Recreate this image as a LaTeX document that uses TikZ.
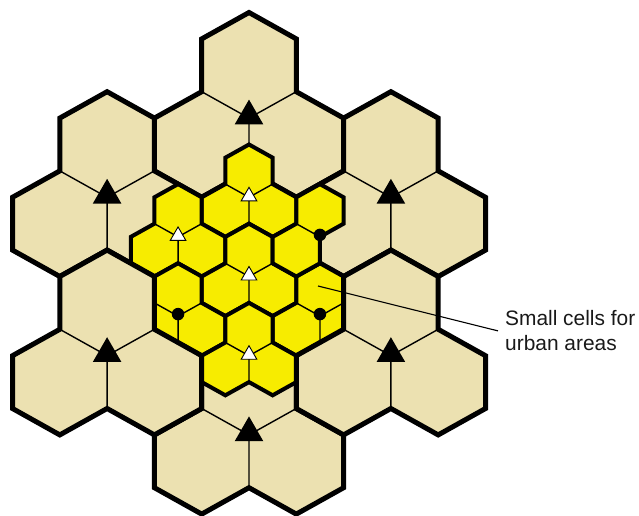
\documentclass[tikz,border=0pt]{standalone}
\usepackage{fontspec}
\setmainfont{Liberation Sans}
\usetikzlibrary{shapes.geometric}

\definecolor{cellbeige}{RGB}{236,225,177}
\definecolor{cellyellow}{RGB}{247,236,0}

\tikzset{
  sector/.style={line width=1.4pt},
  bigsite/.style={regular polygon, regular polygon sides=3, fill=black, inner sep=0pt, minimum size=33pt},
  smallsite/.style={regular polygon, regular polygon sides=3, draw=black, line width=0.9pt, fill=white, inner sep=0pt, minimum size=18pt},
  smalldot/.style={circle, fill=black, inner sep=0pt, minimum size=12.5pt},
  leader/.style={line width=1.1pt},
  caption/.style={font=\fontsize{20.9}{25}\selectfont, align=left, inner sep=0pt, text=black!90}
}

% three hexagons round a site at (0,0); #1 fill colour, #2 width of the outline
\newcommand\cellgroup[2]{
  \draw[line width=#2, fill=#1] (0,-4) -- (1,-3) -- (1,-1) -- (2,0) -- (2,2) -- (1,3)
    -- (0,2) -- (-1,3) -- (-2,2) -- (-2,0) -- (-1,-1) -- (-1,-3) -- cycle;
  \draw[sector] (0,0) -- (1,-1) (0,0) -- (-1,-1) (0,0) -- (0,2);
}

\begin{document}
\begin{tikzpicture}[x=1pt, y=-1pt]
  \useasboundingbox (0,0) rectangle (639,516);

  \begin{scope}[xshift=249pt, yshift=-276.5pt, x=47.3pt, y=-26.4pt]
    % large cells, three sectors to a site
    \foreach \n/\i/\j in {top/0/-6, lup/-3/-3, rup/3/-3, mid/0/0, bot/0/6} {
      \begin{scope}[shift={(\i,\j)}]
        \cellgroup{cellbeige}{5pt}
      \end{scope}
      \coordinate (big-\n) at (\i,\j);
    }

    % small cells, half size
    \begin{scope}[scale=0.5]
      \foreach \n/\i/\j in {a/0/-6, b/-3/-3, d/0/0, e/-3/3, f/3/3, g/0/6} {
        \begin{scope}[shift={(\i,\j)}]
          \cellgroup{cellyellow}{4pt}
        \end{scope}
        \coordinate (small-\n) at (\i,\j);
      }
      % site c has no lower right sector
      \begin{scope}[shift={(3,-3)}]
        \draw[line width=4pt, fill=cellyellow] (0,-4) -- (1,-3) -- (1,-1) -- (0,0) -- (0,2)
          -- (-1,3) -- (-2,2) -- (-2,0) -- (-1,-1) -- (-1,-3) -- cycle;
        \draw[sector] (0,0) -- (-1,-1);
      \end{scope}
      \coordinate (small-c) at (3,-3);
    \end{scope}

    % lower side cells lie over the small ones
    \foreach \n/\i/\j in {ldn/-3/3, rdn/3/3} {
      \begin{scope}[shift={(\i,\j)}]
        \cellgroup{cellbeige}{5pt}
      \end{scope}
      \coordinate (big-\n) at (\i,\j);
    }
  \end{scope}

  % base stations
  \foreach \n in {top,lup,rup,ldn,rdn,bot}
    \node[bigsite] (mark-\n) at ([yshift=2pt]big-\n) {};
  \foreach \n in {a,b,d,g}
    \node[smallsite] (mark-\n) at ([yshift=1pt]small-\n) {};
  \foreach \n in {c,e,f}
    \node[smalldot] (mark-\n) at ([yshift=2pt]small-\n) {};

  \node[caption, anchor=north west] (urban) at (505,310.5) {Small cells for\\urban areas};
  \coordinate (pointer) at (318,286);
  \draw[leader] (pointer) -- ([xshift=-7pt]urban.west);
\end{tikzpicture}
\end{document}
